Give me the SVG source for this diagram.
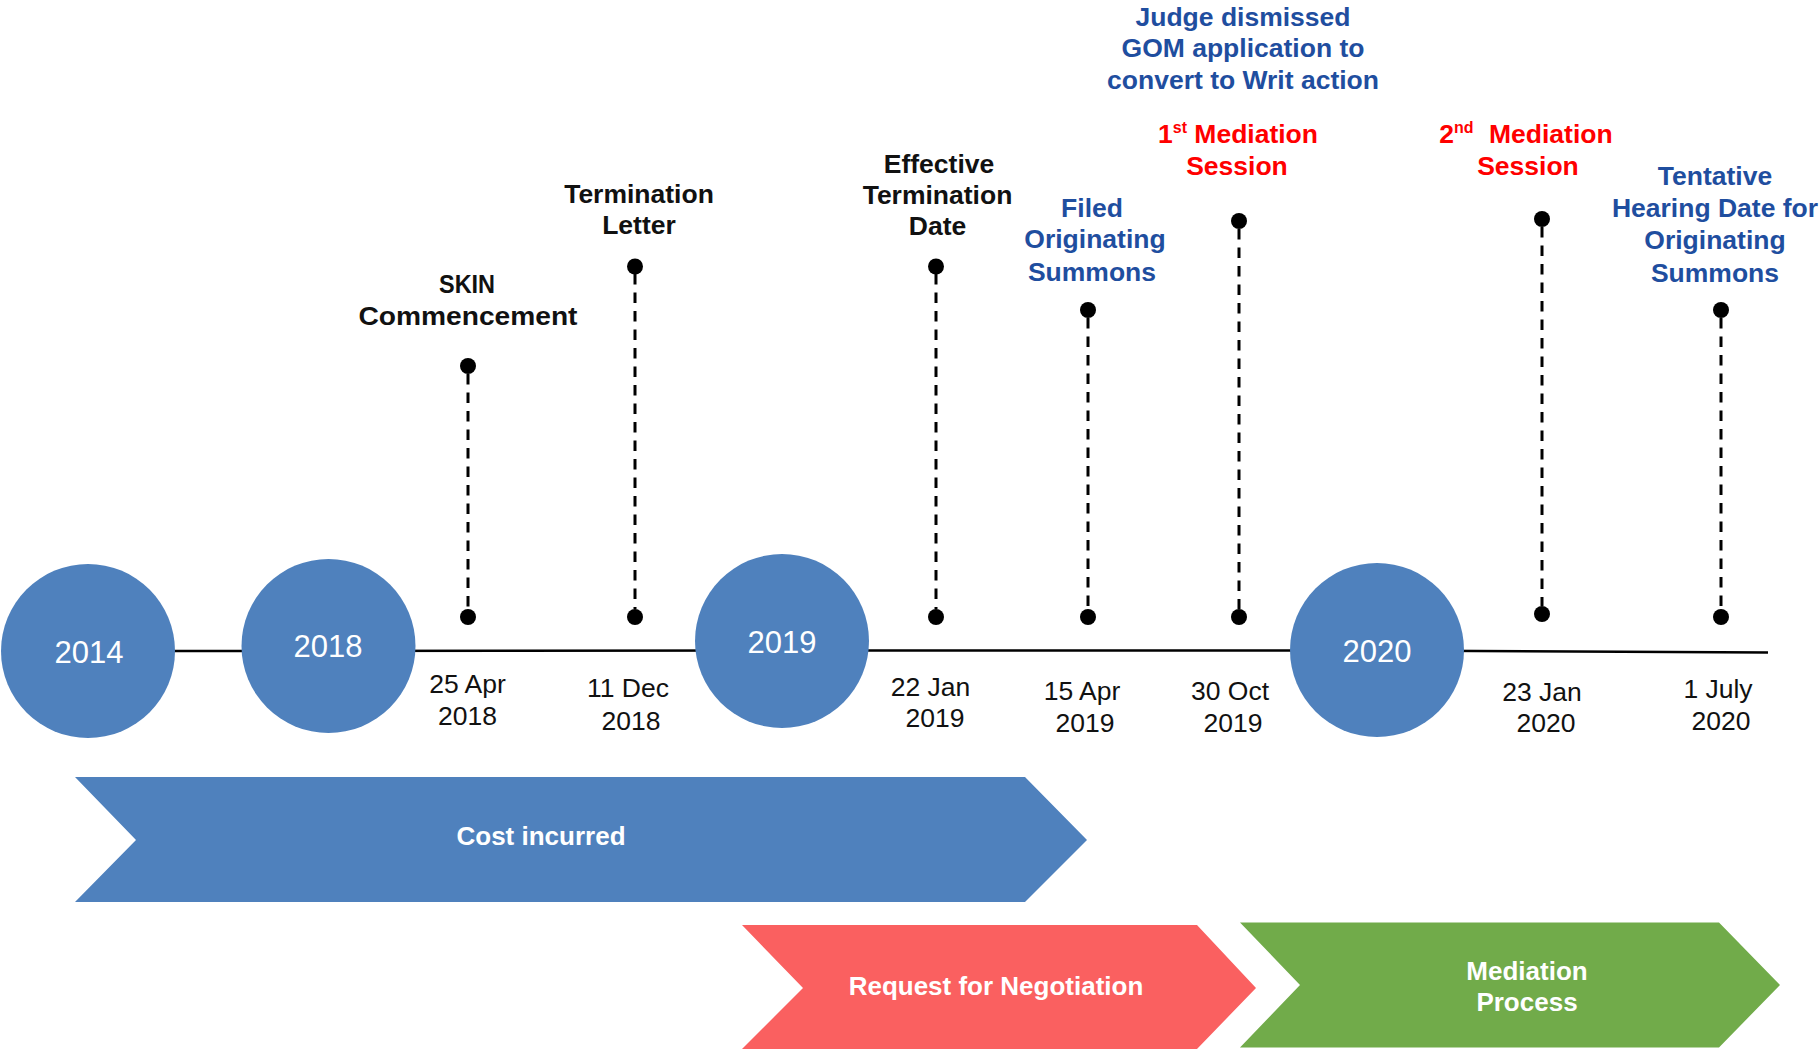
<svg xmlns="http://www.w3.org/2000/svg" width="1819" height="1050" viewBox="0 0 1819 1050">
  <style>
    .bg { fill: #ffffff; }
    .axis { stroke: #000; stroke-width: 2.5; fill: none; }
    .stem { stroke: #000; stroke-width: 3; stroke-dasharray: 10.5 8; fill: none; }
    .dot { fill: #000; }
    .yr { fill: #4F81BD; }
    .yrt { font-family: "Liberation Sans", Arial, sans-serif; font-size: 31px; fill: #fff; text-anchor: middle; }
    .date { font-family: "Liberation Sans", Arial, sans-serif; font-size: 26.5px; fill: #111; text-anchor: middle; }
    .lbl { font-family: "Liberation Sans", Arial, sans-serif; font-weight: bold; font-size: 26.5px; text-anchor: middle; }
    .blk { fill: #111; }
    .blu { fill: #1F4E9F; }
    .red { fill: #FF0000; }
    .sup { font-size: 16px; }
    .chev-t { font-family: "Liberation Sans", Arial, sans-serif; font-weight: bold; font-size: 26px; fill: #fff; text-anchor: middle; }
  </style>

  <rect class="bg" x="0" y="0" width="1819" height="1050"/>

  <!-- axis and dashed stems -->
  <g id="connectors">
    <path class="axis" d="M88 651 L782 650.5 L1377 650.5 L1768 652.5"/>
    <line class="stem" x1="468" y1="374" x2="468" y2="609"/>
    <line class="stem" x1="635" y1="274" x2="635" y2="609"/>
    <line class="stem" x1="936" y1="274" x2="936" y2="609"/>
    <line class="stem" x1="1088" y1="318" x2="1088" y2="609"/>
    <line class="stem" x1="1239" y1="229" x2="1239" y2="609"/>
    <line class="stem" x1="1542" y1="227" x2="1542" y2="606"/>
    <line class="stem" x1="1721" y1="318" x2="1721" y2="609"/>
  </g>

  <!-- year circles -->
  <g id="year-2014">
    <circle class="yr" cx="88" cy="651" r="87"/>
    <text class="yrt" x="89" y="663">2014</text>
  </g>
  <g id="year-2018">
    <circle class="yr" cx="328.5" cy="646" r="87"/>
    <text class="yrt" x="328" y="657">2018</text>
  </g>
  <g id="year-2019">
    <circle class="yr" cx="782" cy="641" r="87"/>
    <text class="yrt" x="782" y="653">2019</text>
  </g>
  <g id="year-2020">
    <circle class="yr" cx="1377" cy="650" r="87"/>
    <text class="yrt" x="1377" y="662">2020</text>
  </g>

  <!-- events -->
  <g id="ev-skin">
    <circle class="dot" cx="468" cy="366" r="8"/>
    <circle class="dot" cx="468" cy="617" r="8"/>
    <text class="lbl blk" x="467" y="293" textLength="56" lengthAdjust="spacingAndGlyphs">SKIN</text>
    <text class="lbl blk" x="468" y="325" textLength="219" lengthAdjust="spacingAndGlyphs">Commencement</text>
    <text class="date" x="467.5" y="693">25 Apr</text>
    <text class="date" x="467.5" y="725">2018</text>
  </g>
  <g id="ev-termination-letter">
    <circle class="dot" cx="635" cy="266.5" r="8"/>
    <circle class="dot" cx="635" cy="617" r="8"/>
    <text class="lbl blk" x="639" y="203">Termination</text>
    <text class="lbl blk" x="639" y="234">Letter</text>
    <text class="date" x="628" y="697">11 Dec</text>
    <text class="date" x="631" y="730">2018</text>
  </g>
  <g id="ev-effective-termination">
    <circle class="dot" cx="936" cy="266.5" r="8"/>
    <circle class="dot" cx="936" cy="617" r="8"/>
    <text class="lbl blk" x="939" y="173">Effective</text>
    <text class="lbl blk" x="937.5" y="204">Termination</text>
    <text class="lbl blk" x="937.5" y="235">Date</text>
    <text class="date" x="930.5" y="696">22 Jan</text>
    <text class="date" x="935" y="727">2019</text>
  </g>
  <g id="ev-filed-os">
    <circle class="dot" cx="1088" cy="310" r="8"/>
    <circle class="dot" cx="1088" cy="617" r="8"/>
    <text class="lbl blu" x="1092" y="217">Filed</text>
    <text class="lbl blu" x="1095" y="248">Originating</text>
    <text class="lbl blu" x="1092" y="281">Summons</text>
    <text class="date" x="1082" y="700">15 Apr</text>
    <text class="date" x="1085" y="732">2019</text>
  </g>
  <g id="ev-mediation-1">
    <circle class="dot" cx="1239" cy="221" r="8"/>
    <circle class="dot" cx="1239" cy="617" r="8"/>
    <text class="lbl blu" x="1243" y="26">Judge dismissed</text>
    <text class="lbl blu" x="1243" y="57">GOM application to</text>
    <text class="lbl blu" x="1243" y="89">convert to Writ action</text>
    <text class="lbl red" x="1238" y="143">1<tspan class="sup" dy="-10">st</tspan><tspan dy="10"> Mediation</tspan></text>
    <text class="lbl red" x="1237" y="175">Session</text>
    <text class="date" x="1230" y="700">30 Oct</text>
    <text class="date" x="1233" y="732">2019</text>
  </g>
  <g id="ev-mediation-2">
    <circle class="dot" cx="1542" cy="219" r="8"/>
    <circle class="dot" cx="1542" cy="614" r="8"/>
    <text class="lbl red" x="1526" y="143">2<tspan class="sup" dy="-10">nd</tspan><tspan dy="10" dx="8"> Mediation</tspan></text>
    <text class="lbl red" x="1528" y="175">Session</text>
    <text class="date" x="1542" y="701">23 Jan</text>
    <text class="date" x="1546" y="732">2020</text>
  </g>
  <g id="ev-tentative-hearing">
    <circle class="dot" cx="1721" cy="310" r="8"/>
    <circle class="dot" cx="1721" cy="617" r="8"/>
    <text class="lbl blu" x="1715" y="185">Tentative</text>
    <text class="lbl blu" x="1715" y="217">Hearing Date for</text>
    <text class="lbl blu" x="1715" y="249">Originating</text>
    <text class="lbl blu" x="1715" y="282">Summons</text>
    <text class="date" x="1718" y="698">1 July</text>
    <text class="date" x="1721" y="730">2020</text>
  </g>

  <!-- phase chevrons -->
  <g id="phase-cost">
    <polygon fill="#4F81BD" points="75,777 1025,777 1087,840 1025,902 75,902 136,840"/>
    <text class="chev-t" x="541" y="845">Cost incurred</text>
  </g>
  <g id="phase-negotiation">
    <polygon fill="#FA6060" points="742,925 1197,925 1256,988 1197,1049 742,1049 803,988"/>
    <text class="chev-t" x="996" y="995">Request for Negotiation</text>
  </g>
  <g id="phase-mediation">
    <polygon fill="#71AB4A" points="1240,922.5 1719,922.5 1780,985 1719,1047.5 1240,1047.5 1300,985"/>
    <text class="chev-t" x="1527" y="980">Mediation</text>
    <text class="chev-t" x="1527" y="1011">Process</text>
  </g>
</svg>
